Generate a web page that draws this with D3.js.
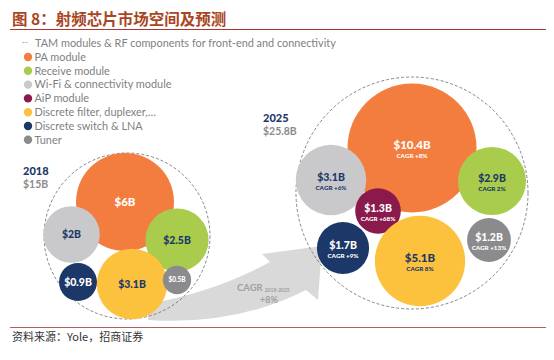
<!DOCTYPE html>
<html><head><meta charset="utf-8">
<script src="https://cdn.jsdelivr.net/npm/d3@7"></script>
<style>body{margin:0;background:#fff}svg{display:block}</style>
</head><body>
<script>
// ---- data ----
const categories = ["PA module","Receive module","Wi-Fi & connectivity module","AiP module","Discrete filter, duplexer,\u2026","Discrete switch & LNA","Tuner"];
const values2018 = [6, 2.5, 2, 0, 3.1, 0.9, 0.5];
const labels2018 = ["$6B","$2.5B","$2B","","$3.1B","$0.9B","$0.5B"];
const values2025 = [10.4, 2.9, 3.1, 1.3, 5.1, 1.7, 1.2];
const labels2025 = ["$10.4B","$2.9B","$3.1B","$1.3B","$5.1B","$1.7B","$1.2B"];
const cagr2025 = ["CAGR +8%","CAGR 2%","CAGR +6%","CAGR +68%","CAGR 8%","CAGR +9%","CAGR +13%"];
const years = ["2018","2025"];
const totals = ["$15B","$25.8B"];
const totalCagr = "+8%";
const legendHeader = "TAM modules & RF components for front-end and connectivity";

// ---- style ----
const colors = ["#f27d3e","#a9cc4c","#c9c9cc","#8a1a4b","#fdc23d","#1c3868","#8b8b8d"];
const textCol = ["#fff","#1c3868","#1c3868","#fff","#1c3868","#fff","#fff"];
// layout offsets of bubbles relative to cluster centre
const layout2018 = [[-2,-34],[50,4],[-55.5,-1.5],[0,0],[5,48],[-49,46],[50,44]];
const layout2025 = [[0,-45],[80,-12],[-81,-13],[-34,18],[8,68],[-69,55],[77,47]];

const W=554,H=360;
const svg=d3.select("body").append("svg").attr("width",W).attr("height",H);
const font="'Lato','Open Sans',sans-serif";

// title
svg.append("text").attr("x",12).attr("y",25).text("图 8：射频芯片市场空间及预测")
  .attr("font-family","'Noto Sans CJK SC',sans-serif").attr("font-weight",700)
  .attr("font-size",15.5).attr("fill","#a9461f");
svg.append("line").attr("x1",10).attr("x2",546).attr("y1",29.5).attr("y2",29.5).attr("stroke","#b0342a").attr("stroke-width",1);
svg.append("line").attr("x1",10).attr("x2",546).attr("y1",327.5).attr("y2",327.5).attr("stroke","#b06060").attr("stroke-width",1);
svg.append("text").attr("x",12).attr("y",341).text("资料来源：Yole，招商证券")
  .attr("font-family","'Noto Sans CJK SC',sans-serif").attr("font-size",11).attr("fill","#333");

// legend
const lg=svg.append("g").attr("font-family",font).attr("font-size",10.9).attr("fill","#7f7f7f");
lg.append("text").attr("x",22).attr("y",45).text("--").attr("font-size",8);
lg.append("text").attr("x",35).attr("y",47).text(legendHeader);
categories.forEach((c,i)=>{
  const y=57+i*13.8;
  lg.append("circle").attr("cx",28).attr("cy",y).attr("r",4.2).attr("fill",colors[i]);
  lg.append("text").attr("x",34.5).attr("y",y+3.8).text(c);
});

// radius scale
const r=d3.scaleSqrt().domain([0,10.4]).range([0,64.5]);

// arrow
svg.append("path").attr("fill","#d9d9da")
  .attr("d","M148,304 Q215,292 270,262 L262,254 L322,246 L318,300 L306,290 Q235,326 148,320 Z");
svg.append("text").attr("x",237).attr("y",291).attr("font-family",font).attr("font-weight",700)
  .attr("font-size",9.5).attr("fill","#a0a0a0").text("CAGR")
  .append("tspan").attr("font-size",5).attr("dx",2).attr("dy",1).text("2018-2025");
svg.append("text").attr("x",260).attr("y",303).attr("font-family",font).attr("font-weight",700)
  .attr("font-size",9).attr("fill","#a0a0a0").text(totalCagr);

function cluster(cx,cy,R,vals,labs,lay,cagr,yi,yx,yy){
  const g=svg.append("g");
  g.append("circle").attr("cx",cx).attr("cy",cy).attr("r",R).attr("fill","none")
   .attr("stroke","#777").attr("stroke-width",0.9).attr("stroke-dasharray","3,2");
  vals.forEach((v,i)=>{
    if(!v) return;
    const x=cx+lay[i][0], y=cy+lay[i][1], rr=r(v);
    g.append("circle").attr("cx",x).attr("cy",y).attr("r",rr).attr("fill",colors[i]);
    const fs = rr<16?6.5:(rr>40?11.5:10.5);
    const t=g.append("text").attr("x",x).attr("text-anchor","middle").attr("font-family",font)
      .attr("font-weight",900).attr("fill",textCol[i]);
    if(cagr){
      t.attr("y",y+1).attr("font-size",fs).text(labs[i]);
      g.append("text").attr("x",x).attr("y",y+9.5).attr("text-anchor","middle").attr("font-family",font)
       .attr("font-weight",900).attr("font-size",6.3).attr("fill",textCol[i]).text(cagr[i]);
    } else {
      t.attr("y",y+fs*0.36).attr("font-size",fs).text(labs[i]);
    }
  });
  svg.append("text").attr("x",yx).attr("y",yy).attr("font-family",font).attr("font-weight",900)
    .attr("font-size",11).attr("fill","#1c3868").text(years[yi]);
  svg.append("text").attr("x",yx).attr("y",yy+13).attr("font-family",font).attr("font-weight",700)
    .attr("font-size",10.5).attr("fill","#8c8c8c").text(totals[yi]);
}
cluster(127,236,83,values2018,labels2018,layout2018,null,0,23,175);
cluster(412,193,116,values2025,labels2025,layout2025,cagr2025,1,263,122);
</script>
</body></html>
